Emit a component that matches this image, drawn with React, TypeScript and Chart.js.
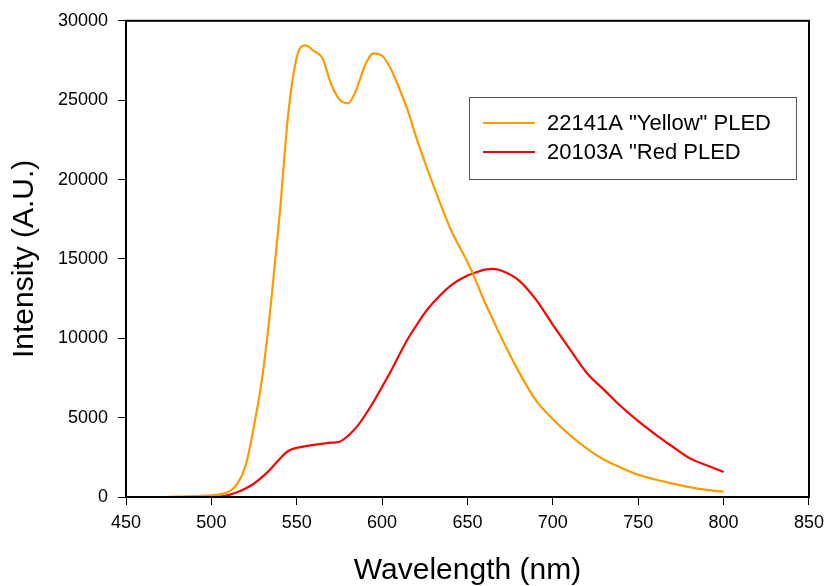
import React, { useEffect, useRef } from "react";
import { Chart, registerables } from "chart.js";

Chart.register(...registerables);

const wavelengths = [473, 480, 490, 500, 505, 510, 515, 520, 525, 530, 535, 540, 545, 550, 555, 560, 565, 570, 575, 580, 585, 590, 595, 600, 605, 610, 615, 620, 625, 630, 640, 650, 655, 660, 665, 670, 680, 690, 700, 710, 720, 730, 740, 750, 760, 770, 780, 790, 800];

const yellowPled = [0, 20, 40, 100, 170, 320, 800, 1950, 4500, 7700, 12300, 17800, 24100, 27700, 28450, 28100, 27650, 26050, 25050, 24800, 25700, 27200, 27950, 27800, 27000, 25750, 24350, 22650, 21100, 19650, 16900, 14800, 13600, 12300, 11150, 10000, 7900, 6100, 4900, 3900, 3050, 2350, 1850, 1400, 1100, 850, 620, 450, 330];

const redPled = [0, 0, 10, 20, 30, 120, 300, 530, 850, 1280, 1800, 2400, 2900, 3100, 3200, 3280, 3350, 3420, 3480, 3850, 4400, 5150, 6000, 6950, 7900, 8950, 9950, 10800, 11600, 12250, 13300, 13950, 14150, 14320, 14370, 14250, 13650, 12450, 10850, 9300, 7800, 6750, 5700, 4780, 3950, 3180, 2450, 2000, 1570];

const seriesLabels = ['22141A "Yellow" PLED', '20103A "Red PLED'];
const seriesColors = ["#FF9900", "#FF0000"];

const FONT = "'Liberation Sans', Arial, Helvetica, sans-serif";

const framePlugin = {
  id: "frame",
  afterDraw(chart: any) {
    const { ctx, chartArea } = chart;
    ctx.save();
    ctx.strokeStyle = "#000";
    ctx.lineWidth = 2;
    ctx.strokeRect(chartArea.left, chartArea.top, chartArea.right - chartArea.left, chartArea.bottom - chartArea.top);
    ctx.restore();
  },
};

const legendBoxPlugin = {
  id: "legendBox",
  afterDraw(chart: any) {
    const { ctx } = chart;
    ctx.save();
    ctx.fillStyle = "#fff";
    ctx.fillRect(469, 97, 327, 82);
    ctx.strokeStyle = "#555";
    ctx.lineWidth = 1;
    ctx.strokeRect(469.5, 97.5, 327, 82);
    chart.data.datasets.forEach((ds: any, i: number) => {
      const y = 123 + i * 29;
      ctx.strokeStyle = ds.borderColor;
      ctx.lineWidth = 2;
      ctx.beginPath();
      ctx.moveTo(483, y);
      ctx.lineTo(535, y);
      ctx.stroke();
      ctx.fillStyle = "#000";
      ctx.font = `22px ${FONT}`;
      ctx.textBaseline = "middle";
      ctx.textAlign = "left";
      ctx.fillText(ds.label, 547, y + 1);
    });
    ctx.restore();
  },
};

export default function App() {
  const canvasRef = useRef<HTMLCanvasElement | null>(null);

  useEffect(() => {
    if (!canvasRef.current) return;
    const chart = new Chart(canvasRef.current, {
      type: "line",
      data: {
        datasets: [yellowPled, redPled].map((vals, i) => ({
          label: seriesLabels[i],
          data: wavelengths.map((w, j) => ({ x: w, y: vals[j] })),
          borderColor: seriesColors[i],
          backgroundColor: seriesColors[i],
          borderWidth: 2.2,
          pointRadius: 0,
          cubicInterpolationMode: "monotone" as const,
          fill: false,
        })),
      },
      options: {
        responsive: false,
        animation: false,
        layout: { padding: { left: 0, right: 18, top: 20, bottom: 0 } },
        plugins: {
          legend: { display: false },
          tooltip: { enabled: false },
        },
        scales: {
          x: {
            type: "linear",
            min: 450,
            max: 850,
            ticks: {
              stepSize: 50,
              color: "#000",
              font: { family: FONT, size: 18 },
              padding: 7,
              maxRotation: 0,
              callback: (v: any) => String(v),
            },
            grid: { drawOnChartArea: false, drawTicks: true, tickLength: 8, color: "#000", lineWidth: 1 },
            border: { color: "#000", width: 2 },
            title: {
              display: true,
              text: "Wavelength (nm)",
              color: "#000",
              font: { family: FONT, size: 30, lineHeight: 1.05 },
              padding: { top: 0, bottom: 0 },
            },
            afterFit(scale: any) {
              scale.height = 89;
            },
          },
          y: {
            type: "linear",
            min: 0,
            max: 30000,
            ticks: {
              stepSize: 5000,
              color: "#000",
              font: { family: FONT, size: 18 },
              padding: 10,
              callback: (v: any) => String(v),
            },
            grid: { drawOnChartArea: false, drawTicks: true, tickLength: 8, color: "#000", lineWidth: 1 },
            border: { color: "#000", width: 2 },
            title: {
              display: true,
              text: "Intensity (A.U.)",
              color: "#000",
              font: { family: FONT, size: 30, lineHeight: 1.2 },
              padding: { top: 7, bottom: 0 },
            },
            afterFit(scale: any) {
              scale.width = 126;
            },
          },
        },
      },
      plugins: [framePlugin, legendBoxPlugin],
    });
    return () => chart.destroy();
  }, []);

  return (
    <div style={{ position: "absolute", left: 0, top: 0, width: 831, height: 586, background: "#fff" }}>
      <canvas ref={canvasRef} width={831} height={586} style={{ display: "block" }} />
    </div>
  );
}
